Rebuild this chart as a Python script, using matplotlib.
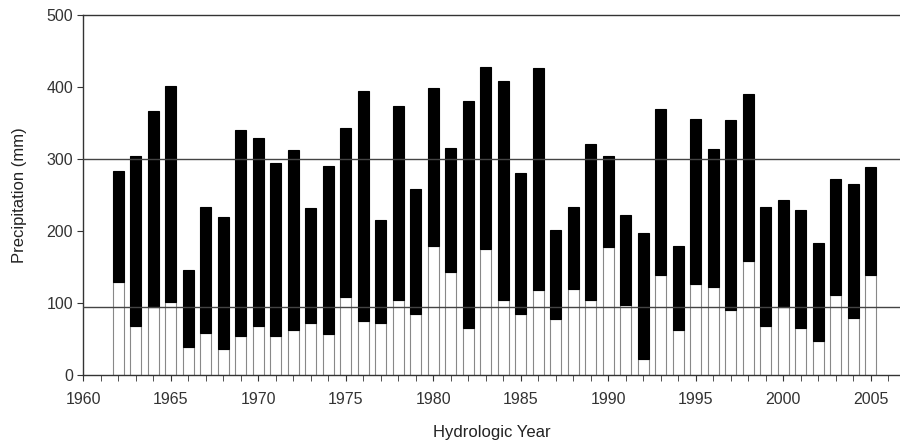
import numpy as np
import matplotlib.pyplot as plt

plt.rcParams['font.family'] = ['Liberation Sans', 'DejaVu Sans']

# hydrologic years
years = list(range(1962, 2006))

# lower (white) part of each bar, mm
lower = [129, 68, 94, 102, 39, 59, 36, 54, 68, 54,
         63, 73, 57, 109, 75, 72, 105, 85, 180, 143,
         66, 175, 105, 85, 118, 78, 120, 105, 178, 98,
         22, 139, 62, 127, 122, 91, 158, 68, 94, 65,
         48, 111, 79, 139]

# total precipitation (top of bar), mm
total = [284, 305, 367, 402, 146, 233, 220, 340, 330, 294,
         312, 232, 290, 343, 395, 215, 374, 259, 399, 315,
         381, 428, 408, 281, 426, 201, 234, 321, 304, 222,
         197, 370, 180, 356, 314, 354, 390, 233, 243, 229,
         183, 272, 265, 289]

ref_lines = [95, 300]

upper = np.array(total) - np.array(lower)

fig = plt.figure(figsize=(9, 4.45), dpi=100)
ax = fig.add_axes([0.0926, 0.157, 0.9074, 0.809])

ax.bar(years, lower, width=0.62, color='white', edgecolor='#888888', linewidth=0.8, zorder=2)
ax.bar(years, upper, bottom=lower, width=0.62, color='black', edgecolor='black', linewidth=0.8, zorder=2)

for v in ref_lines:
    ax.axhline(v, color='#444444', linewidth=1.0, zorder=3)

ax.set_xlim(1960, 2006.67)
ax.set_ylim(0, 500)
ax.set_xticks(range(1960, 2007, 5))
ax.set_xticks(range(1960, 2007), minor=True)
ax.set_yticks(range(0, 501, 100))

ax.spines['right'].set_visible(False)
for s in ['left', 'bottom', 'top']:
    ax.spines[s].set_color('#333333')
    ax.spines[s].set_linewidth(1.0)

ax.tick_params(axis='both', which='both', direction='out', color='#333333',
               labelsize=11.5, labelcolor='#333333')
ax.tick_params(axis='x', which='both', length=4, pad=8)
ax.tick_params(axis='y', length=4)

ax.set_xlabel('Hydrologic Year', fontsize=12, labelpad=13, color='#222222')
ax.set_ylabel('Precipitation (mm)', fontsize=12, labelpad=14, color='#222222')

fig.savefig('out.png', dpi=100)
